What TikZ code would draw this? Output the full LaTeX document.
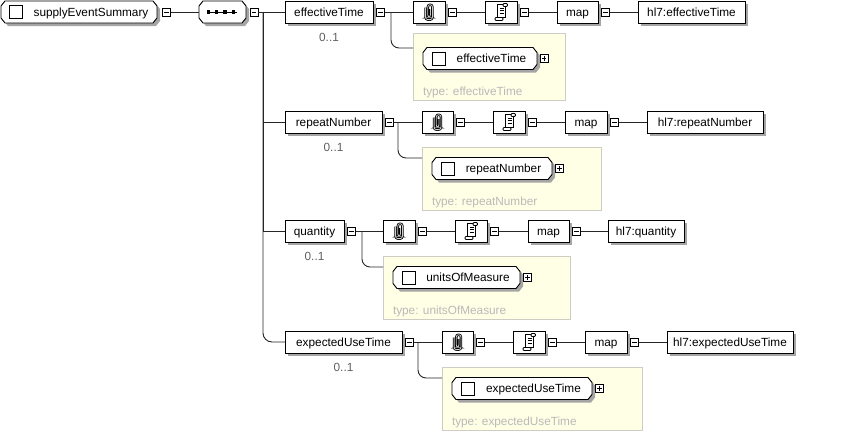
\documentclass[tikz,border=0pt]{standalone}
\usepackage{fontspec}
\setmainfont{Liberation Sans}
\usetikzlibrary{shadows}
\definecolor{shadowgray}{RGB}{165,165,165}
\definecolor{occgray}{RGB}{95,95,95}
\definecolor{typegray}{RGB}{185,185,185}
\definecolor{yfill}{RGB}{255,255,230}
\definecolor{yline}{RGB}{205,205,195}
\newcommand\clippath{(1.4,-3) -- (1.4,5.2) -- (-1.2,5.2) -- (-1.2,-7.3) -- (3.4,-7.3) -- (3.4,7.6) -- (-3.4,7.6) -- (-3.4,-4.5)}
\newcommand\clipicon[1]{%
  \begin{scope}[shift={(#1.center)}]
    \draw[line width=2.4pt, rounded corners=2.2pt] \clippath;
    \draw[line width=0.8pt, gray!40, rounded corners=2.2pt] \clippath;
  \end{scope}}
\newcommand\scrollicon[1]{%
  \begin{scope}[shift={(#1.center)}]
    \draw[line width=0.8pt, fill=white] (-3.5,-8) rectangle (4.5,5.5);
    \draw[line width=0.8pt, fill=white, rounded corners=1pt] (2,-8.5) rectangle (6.5,-5.5);
    \draw[line width=0.8pt, fill=white, rounded corners=1pt] (-6,5.5) rectangle (2,8.5);
    \foreach \yy in {-4,-1.5,1}{\draw[line width=0.7pt] (-1.5,\yy) -- (3,\yy);}
  \end{scope}}
% octagonal element box: #1 name, #2 left x, #3 width, #4 centre y, #5 text
\newcommand\octpath[3]{({#1+4},{#3-11}) -- ({#1+#2-4},{#3-11}) -- ({#1+#2},{#3-6}) -- ({#1+#2},{#3+6}) -- ({#1+#2-4},{#3+11}) -- ({#1+4},{#3+11}) -- ({#1},{#3+6}) -- ({#1},{#3-6}) -- cycle}
\newcommand\octnode[5]{%
  \fill[shadowgray, shift={(3,3)}] \octpath{#2}{#3}{#4};
  \draw[line width=0.9pt, fill=white] \octpath{#2}{#3}{#4};
  \node[otext, minimum width=#3pt] (#1) at (#2,#4) {#5};}
\begin{document}
\begin{tikzpicture}[x=1pt,y=-1pt, font=\fontsize{11.8}{14}\selectfont,
  every node/.style={inner sep=0pt, outer sep=0pt},
  shad/.style={drop shadow={shadow xshift=3pt,shadow yshift=-3pt,fill=shadowgray,opacity=1}},
  rbox/.style={draw, line width=0.9pt, fill=white, minimum height=22pt, text height=8.6pt, text depth=0pt, anchor=west, shad},
  otext/.style={minimum height=22pt, text height=8.6pt, text depth=0pt, anchor=west},
  cbox/.style={draw, line width=0.9pt, fill=white, minimum size=13pt, anchor=west},
  pm/.style={draw, line width=0.8pt, fill=white, minimum size=8pt},
  minus/.style={pm, path picture={\draw[line width=0.8pt] ([xshift=1.8pt]path picture bounding box.west) -- ([xshift=-1.8pt]path picture bounding box.east);}},
  plus/.style={pm, path picture={\draw[line width=0.8pt] ([xshift=1.8pt]path picture bounding box.west) -- ([xshift=-1.8pt]path picture bounding box.east); \draw[line width=0.8pt] ([yshift=-1.8pt]path picture bounding box.north) -- ([yshift=1.8pt]path picture bounding box.south);}},
  ybox/.style={draw=yline, fill=yfill, line width=0.9pt, anchor=north west},
  occ/.style={text=occgray, anchor=base},
  ttext/.style={text=typegray, anchor=base west},
  conn/.style={draw=black!85, line width=0.9pt}
]
\useasboundingbox (0,0) rectangle (844,432);

% root and sequence
\octnode{root}{1}{156}{12}{\hspace*{24pt}supplyEventSummary}
\node[cbox] (rootcb) at (9,12) {};
\node[minus] (rootm) at (166.5,12) {};
\octnode{seq}{199}{47}{12}{}
\begin{scope}[shift={(seq.center)}]
  \draw[line width=0.9pt] (-15.5,0) -- (14.5,0);
  \foreach \xx in {-14.2,-5.8,2.5,10.8} \fill (\xx-1.7,-1.7) rectangle (\xx+1.7,1.7);
\end{scope}
\node[minus] (seqm) at (254,12) {};
\coordinate (tr) at (263,12);

% yellow type boxes first
\node[ybox, minimum width=152pt, minimum height=67pt] (e1y) at (413,33) {};
\node[ybox, minimum width=179pt, minimum height=63pt] (e2y) at (422,147) {};
\node[ybox, minimum width=187pt, minimum height=63pt] (e3y) at (383,256) {};
\node[ybox, minimum width=200pt, minimum height=63pt] (e4y) at (442,367) {};

% row 1
\node[rbox, minimum width=88pt] (e1) at (285,12) {effectiveTime};
\node[occ] (e1o) at (329,41) {0..1};
\node[minus] (e1m) at (380.5,12) {};
\node[rbox, minimum width=32pt] (e1a) at (413,12) {};
\node[minus] (e1am) at (452.5,12) {};
\node[rbox, minimum width=32pt] (e1s) at (485,12) {};
\node[minus] (e1sm) at (524.5,12) {};
\node[rbox, minimum width=41pt] (e1p) at (557,12) {map};
\node[minus] (e1pm) at (605.5,12) {};
\node[rbox, minimum width=107pt] (e1h) at (638,12) {hl7:effectiveTime};
\octnode{e1i}{423}{114}{58.5}{\hspace*{23pt}effectiveTime}
\node[cbox] (e1c) at (432,58.5) {};
\node[plus] (e1ip) at (544,58.5) {};
\node[ttext] (e1t) at (423,95) {type: effectiveTime};
\coordinate (e1b) at (391,12);
\coordinate (e1in) at (413,48);

% row 2
\node[rbox, minimum width=97pt] (e2) at (285,122) {repeatNumber};
\node[occ] (e2o) at (333.5,151) {0..1};
\node[minus] (e2m) at (389.5,122) {};
\node[rbox, minimum width=31pt] (e2a) at (422,122) {};
\node[minus] (e2am) at (460.5,122) {};
\node[rbox, minimum width=32pt] (e2s) at (493,122) {};
\node[minus] (e2sm) at (532.5,122) {};
\node[rbox, minimum width=42pt] (e2p) at (565,122) {map};
\node[minus] (e2pm) at (614.5,122) {};
\node[rbox, minimum width=116pt] (e2h) at (647,122) {hl7:repeatNumber};
\octnode{e2i}{432}{120}{168.5}{\hspace*{23pt}repeatNumber}
\node[cbox] (e2c) at (441,168.5) {};
\node[plus] (e2ip) at (559.5,168.5) {};
\node[ttext] (e2t) at (432,205) {type: repeatNumber};
\coordinate (e2b) at (398,122);
\coordinate (e2in) at (422,158);

% row 3
\node[rbox, minimum width=59pt] (e3) at (285,231) {quantity};
\node[occ] (e3o) at (314.5,260) {0..1};
\node[minus] (e3m) at (351.5,231) {};
\node[rbox, minimum width=32pt] (e3a) at (383,231) {};
\node[minus] (e3am) at (422.5,231) {};
\node[rbox, minimum width=32pt] (e3s) at (455,231) {};
\node[minus] (e3sm) at (494.5,231) {};
\node[rbox, minimum width=41pt] (e3p) at (528,231) {map};
\node[minus] (e3pm) at (576.5,231) {};
\node[rbox, minimum width=76pt] (e3h) at (608,231) {hl7:quantity};
\octnode{e3i}{393}{127}{277.5}{\hspace*{23pt}unitsOfMeasure}
\node[cbox] (e3c) at (402,277.5) {};
\node[plus] (e3ip) at (527.5,277.5) {};
\node[ttext] (e3t) at (393,314) {type: unitsOfMeasure};
\coordinate (e3b) at (362,231);
\coordinate (e3in) at (383,267);

% row 4
\node[rbox, minimum width=117pt] (e4) at (285,342) {expectedUseTime};
\node[occ] (e4o) at (343.5,371) {0..1};
\node[minus] (e4m) at (409.5,342) {};
\node[rbox, minimum width=31pt] (e4a) at (442,342) {};
\node[minus] (e4am) at (480.5,342) {};
\node[rbox, minimum width=32pt] (e4s) at (513,342) {};
\node[minus] (e4sm) at (552.5,342) {};
\node[rbox, minimum width=42pt] (e4p) at (585,342) {map};
\node[minus] (e4pm) at (634.5,342) {};
\node[rbox, minimum width=126pt] (e4h) at (667,342) {hl7:expectedUseTime};
\octnode{e4i}{452}{140}{388.5}{\hspace*{23pt}expectedUseTime}
\node[cbox] (e4c) at (461,388.5) {};
\node[plus] (e4ip) at (599.5,388.5) {};
\node[ttext] (e4t) at (452,425) {type: expectedUseTime};
\coordinate (e4b) at (418,342);
\coordinate (e4in) at (442,378);

% icons
\foreach \n in {e1a,e2a,e3a,e4a} {\clipicon{\n}}
\foreach \n in {e1s,e2s,e3s,e4s} {\scrollicon{\n}}

% connectors
\draw[conn] (rootm) -- (seq);
\draw[conn] (seqm) -- (tr);
\draw[conn] (tr) -- (e1);
\draw[conn] (tr) |- (e2.west);
\draw[conn] (tr) |- (e3.west);
\draw[conn, rounded corners=9pt] (tr) |- (e4.west);
\foreach \r in {e1,e2,e3,e4} {
  \draw[conn] (\r m) -- (\r a);
  \draw[conn] (\r am) -- (\r s);
  \draw[conn] (\r sm) -- (\r p);
  \draw[conn] (\r pm) -- (\r h);
  \draw[conn, rounded corners=8pt] (\r b) |- (\r in);
}
\end{tikzpicture}
\end{document}
